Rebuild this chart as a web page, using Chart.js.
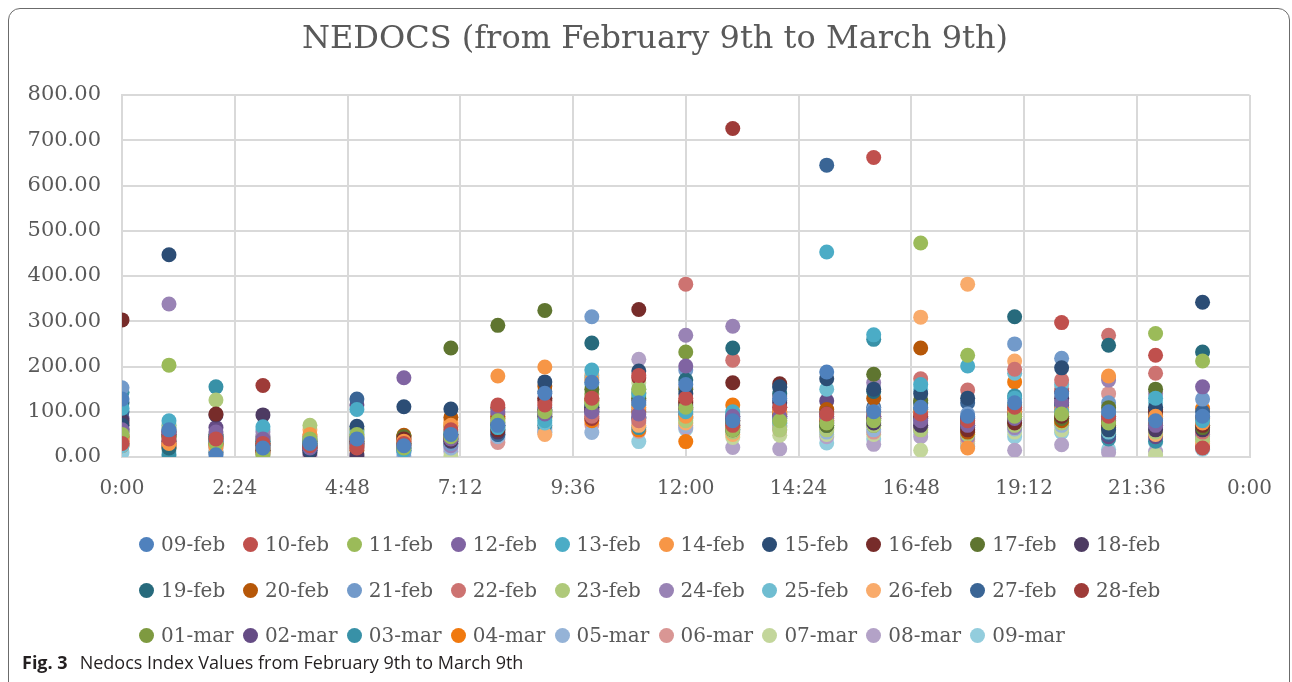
<!DOCTYPE html>
<html>
<head>
<meta charset="utf-8">
<script src="https://cdn.jsdelivr.net/npm/chart.js@4"></script>
<style>
  html, body { margin: 0; padding: 0; background: #fff; }
  #wrap { position: relative; width: 1292px; height: 682px; overflow: hidden; }
  #chart { position: absolute; left: 0; top: 0; }
  #frame {
    position: absolute; left: 8px; top: 8px; width: 1280px; height: 700px;
    border: 1.5px solid #6b6b6b; border-radius: 12px; pointer-events: none;
  }
  #title { position: absolute; left: 0; width: 1310px; top: 18px; text-align: center;
           font-family: "DejaVu Serif", serif; font-size: 32px; color: #595959; white-space: nowrap; }
  .leg { position: absolute; height: 26px; line-height: 26px; white-space: nowrap;
         font-family: "DejaVu Serif", serif; font-size: 20px; color: #595959; }
  .leg i { display: inline-block; width: 15px; height: 15px; border-radius: 50%;
           vertical-align: -1px; margin-right: 7px; }
  #caption { position: absolute; left: 22px; top: 650px; font-family: "Open Sans", sans-serif;
             font-size: 18px; color: #231f20; }
  #caption b { margin-right: 12px; }
</style>
</head>
<body>
<div id="wrap">
  <canvas id="chart" width="1292" height="682"></canvas>
  <div id="frame"></div>
  <div id="title">NEDOCS (from February 9th to March 9th)</div>
  <div id="legend"></div>
  <div id="caption"><b>Fig. 3</b>Nedocs Index Values from February 9th to March 9th</div>
</div>
<script>
// ---- Data ----
const hours = [0, 1, 2, 3, 4, 5, 6, 7, 8, 9, 10, 11, 12, 13, 14, 15, 16, 17, 18, 19, 20, 21, 22, 23];
const xTickHours = [0, 2.4, 4.8, 7.2, 9.6, 12, 14.4, 16.8, 19.2, 21.6, 24];
const xTickLabels = ['0:00', '2:24', '4:48', '7:12', '9:36', '12:00', '14:24', '16:48', '19:12', '21:36', '0:00'];

const days = ['09-feb', '10-feb', '11-feb', '12-feb', '13-feb', '14-feb', '15-feb', '16-feb', '17-feb', '18-feb',
              '19-feb', '20-feb', '21-feb', '22-feb', '23-feb', '24-feb', '25-feb', '26-feb', '27-feb', '28-feb',
              '01-mar', '02-mar', '03-mar', '04-mar', '05-mar', '06-mar', '07-mar', '08-mar', '09-mar'];

const feb09 = [128, 60, 5, 20, 30, 40, 25, 50, 70, 141, 165, 120, 160, 80, 130, 188, 100, 110, 90, 120, 140, 100, 80, 90];
const feb10 = [30, 40, 40, 30, 25, 20, 30, 60, 115, 115, 130, 180, 130, 70, 110, 95, 662, 95, 80, 110, 297, 90, 225, 20];
const feb11 = [50, 203, 30, 5, 40, 50, 20, 45, 80, 100, 120, 150, 110, 60, 80, 75, 80, 473, 225, 90, 95, 75, 273, 212];
const feb12 = [60, 55, 55, 40, 20, 30, 175, 40, 100, 95, 100, 95, 201, 90, 90, 90, 90, 80, 70, 85, 120, 85, 70, 155];
const feb13 = [108, 80, 35, 67, 35, 105, 15, 55, 65, 80, 192, 140, 100, 100, 85, 453, 270, 160, 201, 130, 100, 95, 130, 80];
const feb14 = [35, 30, 25, 20, 50, 25, 35, 70, 179, 199, 170, 110, 90, 65, 100, 85, 95, 100, 20, 100, 105, 179, 90, 75];
const feb15 = [70, 447, 45, 25, 15, 68, 111, 106, 75, 166, 115, 190, 140, 85, 155, 173, 150, 140, 130, 95, 197, 60, 110, 342];
const feb16 = [303, 50, 95, 15, 20, 35, 40, 40, 60, 130, 105, 326, 120, 164, 162, 80, 85, 90, 60, 75, 90, 70, 100, 70];
const feb17 = [62, 45, 50, 30, 30, 45, 45, 241, 291, 324, 150, 130, 150, 75, 95, 70, 183, 125, 75, 80, 85, 109, 150, 65];
const feb18 = [80, 35, 93, 93, 10, 3, 20, 35, 55, 104, 110, 125, 95, 60, 120, 95, 75, 70, 85, 100, 130, 65, 60, 60];
const feb19 = [120, 20, 40, 35, 25, 30, 30, 50, 70, 90, 252, 115, 170, 241, 140, 70, 145, 105, 65, 310, 115, 247, 85, 232];
const feb20 = [45, 25, 30, 10, 35, 15, 48, 88, 90, 157, 125, 100, 124, 80, 100, 105, 130, 241, 55, 90, 80, 80, 75, 85];
const feb21 = [153, 50, 35, 25, 40, 25, 10, 30, 60, 110, 310, 105, 192, 70, 154, 100, 105, 85, 95, 250, 218, 120, 65, 128];
const feb22 = [35, 30, 25, 30, 45, 40, 25, 45, 85, 120, 90, 80, 382, 214, 135, 85, 90, 173, 148, 194, 170, 269, 185, 55];
const feb23 = [45, 65, 126, 40, 70, 35, 30, 55, 65, 85, 130, 135, 80, 55, 60, 60, 70, 60, 50, 70, 75, 60, 55, 40];
const feb24 = [55, 338, 45, 55, 15, 20, 35, 25, 95, 100, 95, 90, 269, 289, 85, 80, 164, 75, 45, 65, 110, 170, 140, 50];
const feb25 = [25, 70, 30, 60, 30, 55, 20, 35, 60, 75, 175, 150, 85, 60, 75, 150, 80, 150, 60, 185, 160, 55, 120, 45];
const feb26 = [40, 35, 20, 25, 60, 30, 40, 80, 95, 50, 180, 70, 75, 50, 70, 90, 95, 309, 382, 212, 100, 175, 50, 30];
const feb27 = [100, 60, 10, 20, 25, 128, 15, 40, 50, 145, 100, 85, 115, 90, 125, 645, 110, 120, 120, 105, 95, 50, 95, 100];
const feb28 = [75, 55, 35, 158, 20, 25, 35, 50, 110, 125, 85, 175, 105, 726, 110, 75, 100, 85, 70, 95, 145, 80, 105, 25];
const mar01 = [55, 45, 40, 15, 35, 60, 30, 67, 106, 95, 139, 142, 232, 65, 80, 65, 70, 118, 55, 115, 90, 90, 100, 70];
const mar02 = [85, 55, 65, 45, 25, 115, 25, 45, 70, 104, 100, 88, 109, 80, 90, 124, 85, 65, 80, 75, 120, 45, 45, 87];
const mar03 = [143, 5, 155, 35, 30, 40, 20, 30, 50, 70, 110, 65, 87, 95, 75, 75, 260, 80, 70, 135, 85, 40, 35, 60];
const mar04 = [25, 20, 30, 20, 20, 30, 45, 75, 85, 90, 80, 60, 34, 115, 95, 100, 90, 100, 50, 166, 76, 60, 70, 107];
const mar05 = [30, 37, 20, 25, 40, 35, 2, 20, 45, 60, 54, 75, 70, 55, 65, 55, 60, 70, 88, 62, 70, 80, 62, 45];
const mar06 = [28, 30, 25, 28, 35, 25, 40, 30, 32, 65, 71, 57, 153, 70, 60, 62, 55, 60, 40, 80, 152, 140, 95, 50];
const mar07 = [40, 73, 10, 42, 46, 62, 25, 2, 76, 88, 124, 164, 75, 43, 48, 50, 50, 15, 35, 55, 60, 50, 5, 35];
const mar08 = [40, 25, 30, 7, 3, 8, 30, 12, 40, 55, 95, 216, 65, 21, 18, 45, 28, 45, 30, 15, 27, 10, 12, 25];
const mar09 = [10, 13, 28, 15, 21, 52, 13, 24, 53, 54, 160, 34, 62, 72, 68, 31, 40, 54, 24, 45, 54, 17, 32, 17];

const seriesValues = [feb09, feb10, feb11, feb12, feb13, feb14, feb15, feb16, feb17, feb18,
                      feb19, feb20, feb21, feb22, feb23, feb24, feb25, feb26, feb27, feb28,
                      mar01, mar02, mar03, mar04, mar05, mar06, mar07, mar08, mar09];

// Excel 2007 theme colours and their shades
const colors = ['#4F81BD', '#C0504D', '#9BBB59', '#8064A2', '#4BACC6', '#F79646',
                '#2C4D75', '#772C2A', '#5F7530', '#4D3B62', '#276A7C', '#B65708',
                '#729ACA', '#CD7371', '#AFC97A', '#9983B5', '#6FBDD1', '#F9AB6B',
                '#3A6595', '#9E3B38', '#7E9A40', '#654C85', '#3891A7', '#F0790F',
                '#95B3D7', '#D99694', '#C3D69B', '#B3A2C7', '#93CDDD'];

const gridColor = '#d9d9d9';
const textColor = '#595959';

// ---- Chart ----
const datasets = days.map((d, i) => ({
    label: d,
    data: hours.map((h, k) => ({ x: h, y: seriesValues[i][k] })),
    backgroundColor: colors[i],
    borderWidth: 0,
    pointRadius: 7.5,
    pointHoverRadius: 7.5
}));

const chart = new Chart(document.getElementById('chart'), {
    type: 'scatter',
    data: { datasets },
    options: {
        responsive: false,
        animation: false,
        layout: { padding: { left: 0, right: 42, top: 95, bottom: 0 } },
        plugins: {
            legend: { display: false },
            tooltip: { enabled: false },
            title: { display: false }
        },
        scales: {
            x: {
                type: 'linear',
                min: 0,
                max: 24,
                afterBuildTicks: scale => { scale.ticks = xTickHours.map(v => ({ value: v })); },
                afterFit: scale => { scale.height = 225; },
                ticks: {
                    color: textColor,
                    font: { family: 'DejaVu Serif', size: 20 },
                    padding: 20,
                    maxRotation: 0,
                    autoSkip: false,
                    callback: (v, i) => xTickLabels[i]
                },
                grid: { color: gridColor, lineWidth: 2, drawTicks: false },
                border: { color: gridColor, width: 2 }
            },
            y: {
                min: 0,
                max: 800,
                afterFit: scale => { scale.width = 122; },
                ticks: {
                    stepSize: 100,
                    color: textColor,
                    font: { family: 'DejaVu Serif', size: 21 },
                    padding: 21,
                    callback: v => v.toFixed(2)
                },
                grid: { color: gridColor, lineWidth: 2, drawTicks: false },
                border: { color: gridColor, width: 2 }
            }
        }
    }
});

// ---- Legend (Excel-style grid, 10 columns) ----
const legend = document.getElementById('legend');
const rowCenters = [544, 590, 635];
chart.data.datasets.forEach((ds, i) => {
    const item = document.createElement('div');
    item.className = 'leg';
    item.style.left = (139 + (i % 10) * 103.9) + 'px';
    item.style.top = (rowCenters[Math.floor(i / 10)] - 13) + 'px';
    item.innerHTML = `<i style="background:${ds.backgroundColor}"></i>${ds.label}`;
    legend.appendChild(item);
});
</script>
</body>
</html>
